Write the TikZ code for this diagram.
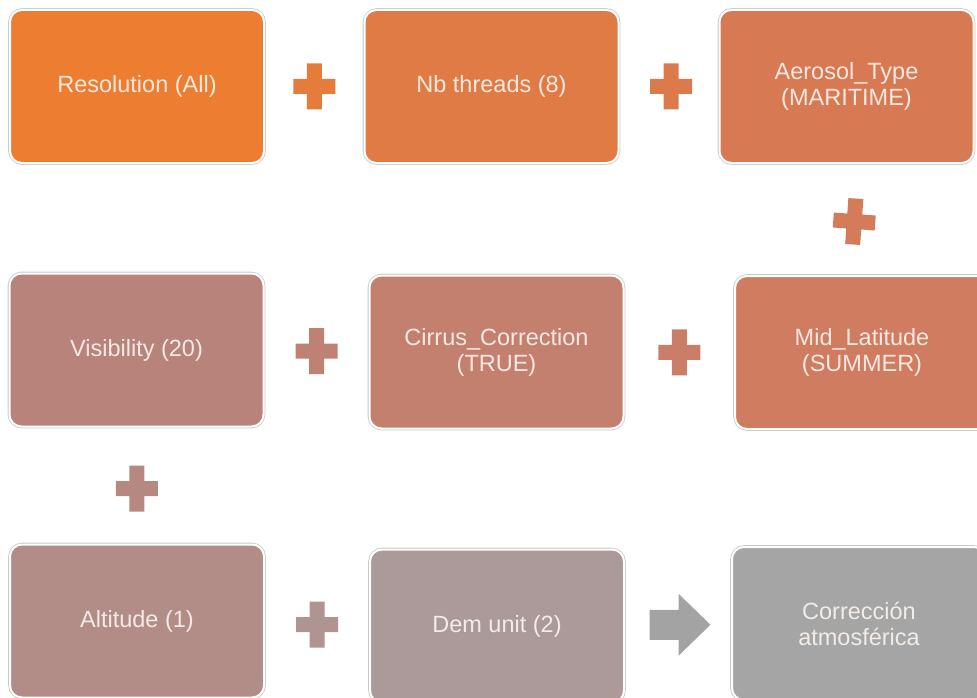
\documentclass[tikz,border=0pt]{standalone}
\usepackage{fontspec}
\setmainfont{Liberation Sans}
\usetikzlibrary{calc}

% colour ramp, from orange to grey
\definecolor{c1}{RGB}{237,125,49}
\definecolor{c12}{RGB}{230,124,60}
\definecolor{c2}{RGB}{224,123,70}
\definecolor{c23}{RGB}{220,122,76}
\definecolor{c3}{RGB}{215,122,83}
\definecolor{c36}{RGB}{212,123,90}
\definecolor{c6}{RGB}{208,124,97}
\definecolor{c65}{RGB}{202,126,104}
\definecolor{c5}{RGB}{196,128,111}
\definecolor{c54}{RGB}{190,129,116}
\definecolor{c4}{RGB}{184,131,122}
\definecolor{c47}{RGB}{181,136,128}
\definecolor{c7}{RGB}{178,141,135}
\definecolor{c78}{RGB}{175,148,145}
\definecolor{c8}{RGB}{172,154,154}
\definecolor{c9}{RGB}{165,165,165}
\definecolor{c89}{RGB}{163,163,163}
\definecolor{boxrim}{RGB}{200,200,200}
\definecolor{boxtext}{RGB}{250,244,240}

\tikzset{
  x=1pt, y=-1pt,
  stepbox/.style={
    rectangle, rounded corners=12pt,
    minimum width=254pt, minimum height=153pt, inner sep=0pt,
    fill=#1, draw=white, line width=2pt,
    preaction={draw=boxrim, line width=3.6pt},
    text=boxtext, text opacity=0.9, align=center,
    font=\fontsize{23.5}{26}\selectfont
  },
  pics/plussign/.style={code={
    \fill[#1] (-7.5,-23) -- (7.5,-23) -- (7.5,-7.5) -- (21,-7.5) -- (21,7.5)
      -- (7.5,7.5) -- (7.5,23) -- (-7.5,23) -- (-7.5,7.5) -- (-21,7.5)
      -- (-21,-7.5) -- (-7.5,-7.5) -- cycle;
  }},
  pics/rightarrow/.style={code={
    \fill[#1] (-30.5,-15) -- (-1.5,-15) -- (-1.5,-31) -- (30.5,0) -- (-1.5,31)
      -- (-1.5,15) -- (-30.5,15) -- cycle;
  }}
}

\begin{document}
\begin{tikzpicture}
\useasboundingbox (0,0) rectangle (977,698);
\clip (0,0) rectangle (977,698);

% parameter boxes
\node[stepbox=c1] (res)  at (137,86.5)   {Resolution (All)};
\node[stepbox=c2] (thr)  at (491.5,86.5) {Nb threads (8)};
\node[stepbox=c3] (aer)  at (846.5,86.5) {Aerosol\_Type\\(MARITIME)};
\node[stepbox=c6] (lat)  at (862,352.5)  {Mid\_Latitude\\(SUMMER)};
\node[stepbox=c5] (cir)  at (496.5,352)  {Cirrus\_Correction\\(TRUE)};
\node[stepbox=c4] (vis)  at (136.5,350)  {Visibility (20)};
\node[stepbox=c7] (alt)  at (137,621)    {Altitude (1)};
\node[stepbox=c8] (dem)  at (497,626)    {Dem unit (2)};
\node[stepbox=c9] (out)  at (859,623.5)  {Corrección\\atmosférica};

% plus signs joining the parameters
\pic at ($(res.east)!0.5!(thr.west)$) {plussign=c12};
\pic at ($(thr.east)!0.5!(aer.west)+(2,0)$) {plussign=c23};
\pic[rotate=-4] at ($(aer.south)!0.5!(lat.north)+(0,2)$) {plussign=c36};
\pic at ($(lat.west)!0.5!(cir.east)$) {plussign=c65};
\pic at ($(cir.west)!0.5!(vis.east)$) {plussign=c54};
\pic at ($(vis.south)!0.5!(alt.north)+(0,3)$) {plussign=c47};
\pic at ($(alt.east)!0.5!(dem.west)+(0,1)$) {plussign=c78};

% result arrow
\pic at ($(dem.east)!0.5!(out.west)+(2,0)$) {rightarrow=c89};
\end{tikzpicture}
\end{document}
